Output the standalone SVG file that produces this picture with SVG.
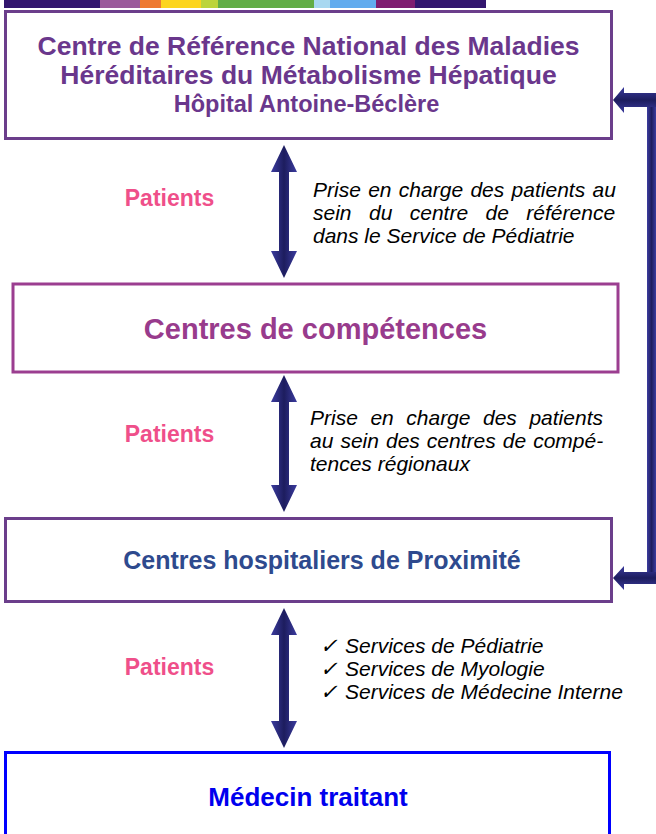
<svg xmlns="http://www.w3.org/2000/svg" width="656" height="834" viewBox="0 0 656 834">
<defs>
<linearGradient id="gv" x1="0" y1="0" x2="1" y2="0">
<stop offset="0" stop-color="#3b3b9f"/><stop offset="0.5" stop-color="#1d1d5e"/><stop offset="1" stop-color="#3b3b9f"/>
</linearGradient>
<linearGradient id="gh" x1="0" y1="0" x2="0" y2="1">
<stop offset="0" stop-color="#3b3b9f"/><stop offset="0.5" stop-color="#1d1d5e"/><stop offset="1" stop-color="#3b3b9f"/>
</linearGradient>
<style>
.box{fill:#fff;stroke-width:3}
.t{font-family:"Liberation Sans",Arial,sans-serif;font-weight:bold;text-anchor:middle}
.it{font-family:"Liberation Sans",Arial,sans-serif;font-style:italic;font-size:21px;fill:#000}
.pat{font-family:"Liberation Sans",Arial,sans-serif;font-weight:bold;font-size:23px;fill:#ef4f8a;text-anchor:middle}
.dbl{fill:url(#gv)}
</style>
</defs>
<g id="colorbar">
<rect x="4" y="0" width="96" height="8" fill="#33166e"/>
<rect x="100" y="0" width="40" height="8" fill="#9b5b9b"/>
<rect x="140" y="0" width="21" height="8" fill="#ee7a30"/>
<rect x="161" y="0" width="40" height="8" fill="#fcd51e"/>
<rect x="201" y="0" width="17" height="8" fill="#bcd43a"/>
<rect x="218" y="0" width="96" height="8" fill="#62ad45"/>
<rect x="314" y="0" width="16" height="8" fill="#a8d8f0"/>
<rect x="330" y="0" width="46" height="8" fill="#62acee"/>
<rect x="376" y="0" width="39" height="8" fill="#7f1d70"/>
<rect x="415" y="0" width="71" height="8" fill="#33166e"/>
</g>
<g id="connectors">
<polygon class="dbl" points="284,145 297,172 289,172 289,251 297,251 284,278 271,251 279,251 279,172 271,172"/>
<polygon class="dbl" points="284,375 297,402 289,402 289,485 297,485 284,512 271,485 279,485 279,402 271,402"/>
<polygon class="dbl" points="284,608 297,635 289,635 289,721 297,721 284,748 271,721 279,721 279,635 271,635"/>
<rect x="647" y="93" width="9" height="490" fill="url(#gv)"/>
<polygon fill="url(#gh)" points="613,100 624,87 624,93 656,93 656,107 624,107 624,113"/>
<polygon fill="url(#gh)" points="613,578 624,566 624,572 656,572 656,584 624,584 624,590"/>
</g>
<g id="node-reference">
<rect class="box" x="5.5" y="11.5" width="606" height="127" stroke="#6b3e8b"/>
<text class="t" x="308.5" y="55" font-size="26.5" fill="#6a378c">Centre de Référence National des Maladies</text>
<text class="t" x="308.5" y="84" font-size="26.5" fill="#6a378c">Héréditaires du Métabolisme Hépatique</text>
<text class="t" x="306.5" y="112" font-size="23.5" fill="#6a378c">Hôpital Antoine-Béclère</text>
</g>
<g id="label-1">
<text class="pat" x="169.5" y="206">Patients</text>
<text class="it" x="313" y="197" word-spacing="1.5">Prise en charge des patients au</text>
<text class="it" x="313" y="220" word-spacing="11.6">sein du centre de référence</text>
<text class="it" x="313" y="243">dans le Service de Pédiatrie</text>
</g>
<g id="node-competences">
<rect class="box" x="13" y="284" width="605" height="88" stroke="#9b3e90"/>
<text class="t" x="315.5" y="339" font-size="29" fill="#983b8c">Centres de compétences</text>
</g>
<g id="label-2">
<text class="pat" x="169.5" y="442">Patients</text>
<text class="it" x="310" y="425" word-spacing="6.7">Prise en charge des patients</text>
<text class="it" x="310" y="448" word-spacing="1.2">au sein des centres de compé-</text>
<text class="it" x="310" y="471">tences régionaux</text>
</g>
<g id="node-proximite">
<rect class="box" x="5.5" y="518.5" width="606" height="83" stroke="#6b3e8b"/>
<text class="t" x="322" y="569" font-size="25" fill="#2e4a8e">Centres hospitaliers de Proximité</text>
</g>
<g id="label-3">
<text class="pat" x="169.5" y="675">Patients</text>
<text class="it" x="320" y="653" font-size="18">✓</text>
<text class="it" x="345" y="653">Services de Pédiatrie</text>
<text class="it" x="320" y="676" font-size="18">✓</text>
<text class="it" x="345" y="676">Services de Myologie</text>
<text class="it" x="320" y="699" font-size="18">✓</text>
<text class="it" x="345" y="699">Services de Médecine Interne</text>
</g>
<g id="node-medecin">
<rect class="box" x="5.5" y="752.5" width="604" height="100" stroke="#0000ff"/>
<text class="t" x="308" y="806" font-size="26" fill="#0000ee">Médecin traitant</text>
</g>
</svg>
